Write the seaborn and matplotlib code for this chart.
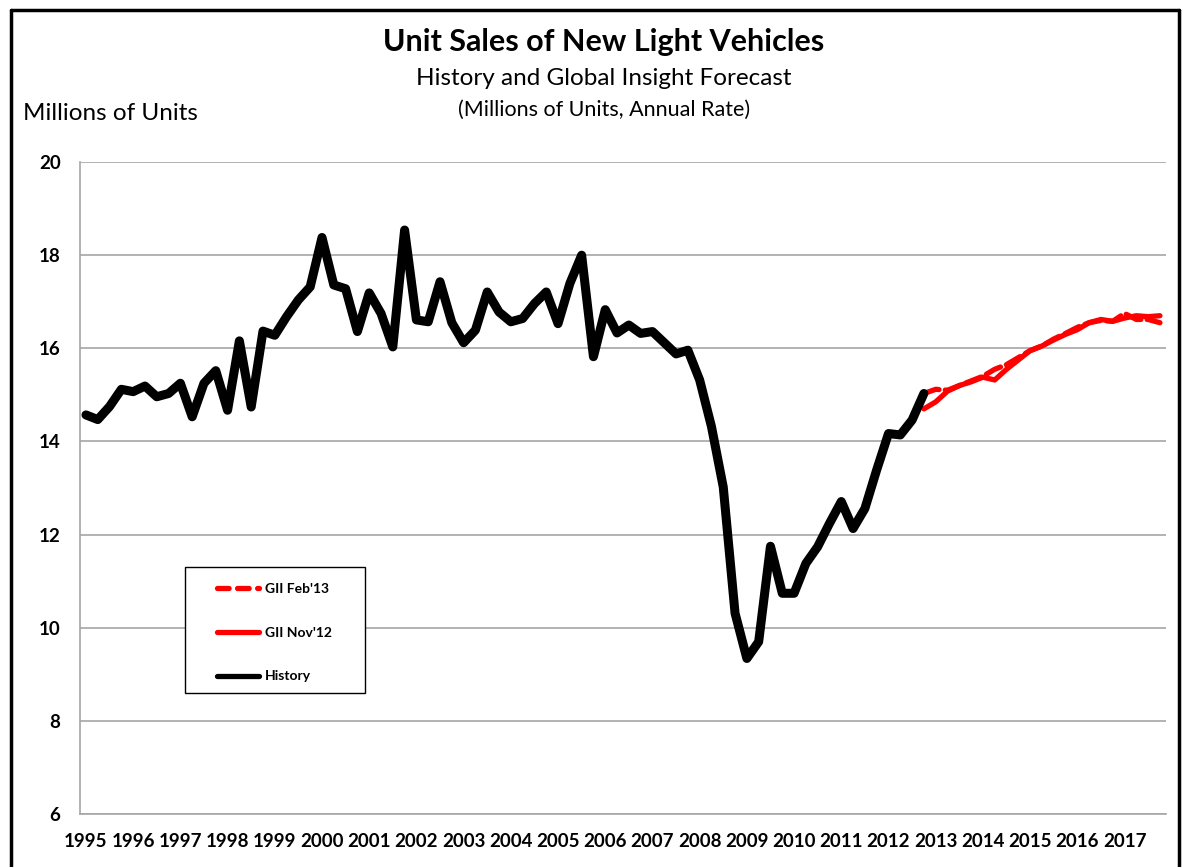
import numpy as np
import pandas as pd
import matplotlib
matplotlib.use("Agg")
import matplotlib.pyplot as plt
from matplotlib.lines import Line2D
from matplotlib.patches import Rectangle
import seaborn as sns

# --- dados (trimestrais, 1995T1 - 2017T4) ---
YEARS = list(range(1995, 2018))

HISTORY = [
    14.57, 14.47, 14.75, 15.12, 15.07, 15.19, 14.96, 15.03,   # 1995-1996
    15.25, 14.53, 15.25, 15.52, 14.67, 16.16, 14.74, 16.37,   # 1997-1998
    16.28, 16.68, 17.04, 17.32, 18.38, 17.36, 17.28, 16.36,   # 1999-2000
    17.19, 16.75, 16.03, 18.54, 16.61, 16.57, 17.43, 16.55,   # 2001-2002
    16.12, 16.39, 17.21, 16.78, 16.57, 16.64, 16.96, 17.21,   # 2003-2004
    16.53, 17.39, 18.00, 15.82, 16.83, 16.33, 16.50, 16.32,   # 2005-2006
    16.36, 16.12, 15.88, 15.96, 15.32, 14.32, 13.02, 10.31,   # 2007-2008
    9.34, 9.70, 11.75, 10.74, 10.74, 11.38, 11.74, 12.24,     # 2009-2010
    12.71, 12.13, 12.56, 13.39, 14.17, 14.14, 14.46, 15.03,   # 2011-2012
]

# previsões começam no 4º trimestre de 2012
GII_NOV12 = [
    14.70, 14.85, 15.08, 15.20, 15.28, 15.38, 15.32, 15.55,
    15.75, 15.95, 16.05, 16.18, 16.30, 16.40, 16.55, 16.62,
    16.58, 16.65, 16.70, 16.68, 16.70,
]
GII_FEB13 = [
    15.03, 15.12, 15.10, 15.20, 15.30, 15.40, 15.55, 15.65,
    15.80, 15.95, 16.05, 16.20, 16.32, 16.45, 16.55, 16.60,
    16.58, 16.75, 16.62, 16.62, 16.55,
]

n_quarters = len(YEARS) * 4
start_fc = len(HISTORY) - 1

df_hist = pd.DataFrame({"q": np.arange(len(HISTORY)), "v": HISTORY})
df_nov = pd.DataFrame({"q": np.arange(start_fc, start_fc + len(GII_NOV12)), "v": GII_NOV12})
df_feb = pd.DataFrame({"q": np.arange(start_fc, start_fc + len(GII_FEB13)), "v": GII_FEB13})

# --- estilo ---
sns.set_style("white")
plt.rcParams["font.family"] = ["Lato", "DejaVu Sans"]
plt.rcParams["text.color"] = "black"

fig = plt.figure(figsize=(11.86, 8.67), dpi=100)
ax = fig.add_axes([0.0675, 0.0611, 0.9155, 0.752])

GRID = "#a6a6a6"
RED = "#ff0000"

sns.lineplot(data=df_nov, x="q", y="v", ax=ax, color=RED, lw=3.8,
             solid_capstyle="round", solid_joinstyle="round")
sns.lineplot(data=df_feb, x="q", y="v", ax=ax, color=RED, lw=3.8,
             linestyle=(0, (3.0, 1.2)), dash_capstyle="round", dash_joinstyle="round")
sns.lineplot(data=df_hist, x="q", y="v", ax=ax, color="black", lw=6.5,
             solid_joinstyle="round", solid_capstyle="round")

ax.set_xlim(-0.5, n_quarters - 0.5)
ax.set_ylim(6, 20)
ax.set_yticks(range(6, 21, 2))
ax.yaxis.grid(True, color=GRID, lw=1.2)
ax.set_axisbelow(True)

ax.set_xticks(np.arange(0, n_quarters, 4))
ax.set_xticklabels([str(y) for y in YEARS])
ax.set_xticks(np.arange(-0.5, n_quarters, 1), minor=True)
ax.tick_params(axis="x", which="major", length=0, pad=14, labelsize=13.5, labelcolor="black")
ax.tick_params(axis="x", which="minor", length=5, color=GRID, width=1.2, direction="out")
ax.tick_params(axis="y", length=7, color=GRID, width=1.2, direction="out",
               pad=7, labelsize=13.5, labelcolor="black")
for lab in ax.get_xticklabels() + ax.get_yticklabels():
    lab.set_fontweight("bold")

for side in ["top", "right"]:
    ax.spines[side].set_visible(False)
for side in ["left", "bottom"]:
    ax.spines[side].set_color(GRID)
    ax.spines[side].set_linewidth(1.2)

ax.set_xlabel("")
ax.set_ylabel("")

# --- legenda (moldura desenhada à parte) ---
ax.add_patch(Rectangle((0.0967, 0.186), 0.1657, 0.193, transform=ax.transAxes,
                       facecolor="white", edgecolor="black", lw=1.0, zorder=4))
handles = [
    Line2D([0], [0], color=RED, lw=3.8, linestyle=(0, (2.2, 1.6)), dash_capstyle="round"),
    Line2D([0], [0], color=RED, lw=3.8, solid_capstyle="round"),
    Line2D([0], [0], color="black", lw=3.8, solid_capstyle="round"),
]
labels = ["GII Feb'13", "GII Nov'12", "History"]
leg = ax.legend(handles, labels, loc="upper left", bbox_to_anchor=(0.126, 0.355),
                frameon=False, prop={"weight": "bold", "size": 10}, labelspacing=2.3,
                handlelength=3.0, handletextpad=0.45, borderpad=0, borderaxespad=0)
leg.set_zorder(5)

# --- títulos ---
fig.text(0.509, 0.952, "Unit Sales of New Light Vehicles", ha="center", va="center",
         fontsize=22, fontweight="bold")
fig.text(0.509, 0.909, "History and Global Insight Forecast", ha="center", va="center",
         fontsize=17.5)
fig.text(0.509, 0.873, "(Millions of Units, Annual Rate)", ha="center", va="center",
         fontsize=15.5)
fig.text(0.019, 0.869, "Millions of Units", ha="left", va="center", fontsize=17.5)

# moldura externa
for xs, ys in [([0.009, 0.009], [0.0, 0.989]),
               ([0.009, 0.994], [0.989, 0.989]),
               ([0.994, 0.994], [0.0, 0.989])]:
    fig.add_artist(Line2D(xs, ys, transform=fig.transFigure, color="black", lw=2.5))

fig.savefig("out.png", dpi=100)
